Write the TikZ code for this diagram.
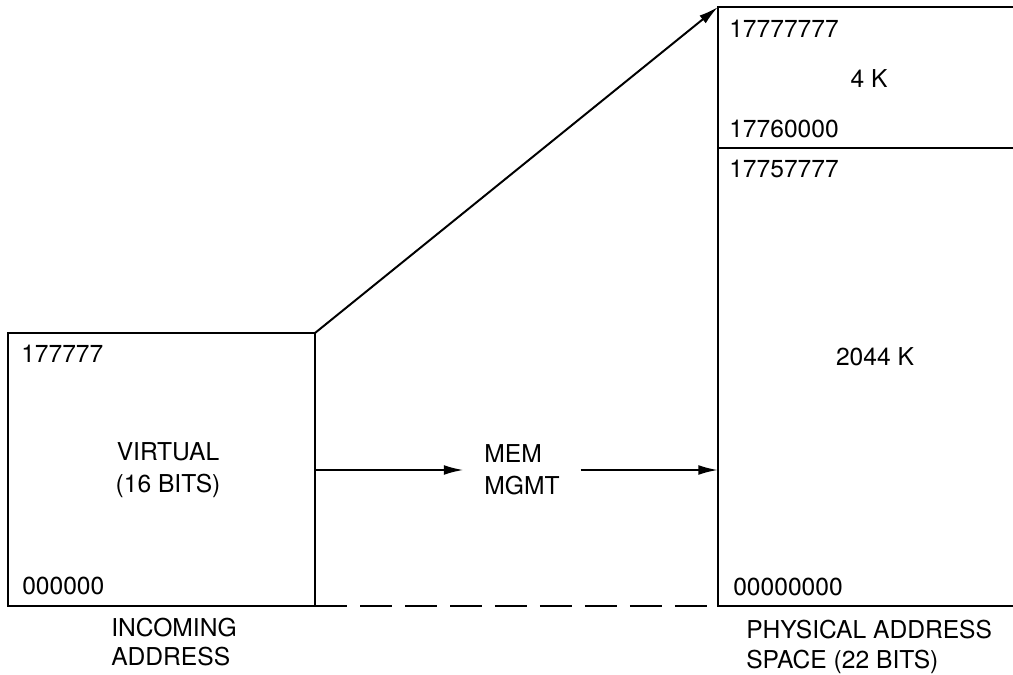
\documentclass[tikz,border=0pt]{standalone}
\usepackage{fontspec}
\setmainfont{TeX Gyre Heros}
\usetikzlibrary{arrows.meta}

\begin{document}
\begin{tikzpicture}[x=0.025cm, y=-0.025cm,
	line width=1.8pt,
	numtext/.style={inner sep=0pt, anchor=west, font=\fontsize{17.5}{22}\selectfont},
	midtext/.style={inner sep=0pt, align=center, font=\fontsize{17.5}{22.8}\selectfont},
	arr/.style={line width=1.4pt, -{Latex[length=14pt,width=7pt]}},
	]
	\useasboundingbox (0,0) rectangle (1013,675);
	%Corners
	\coordinate (vnw)  at (8,333);
	\coordinate (vne)  at (315,333);
	\coordinate (vse)  at (315,606);
	\coordinate (vmid) at (315,470);
	\coordinate (pnw)  at (718,7);
	\coordinate (pne)  at (1013,7);
	\coordinate (pdw)  at (718,148);
	\coordinate (pde)  at (1013,148);
	\coordinate (psw)  at (718,606);
	\coordinate (pse)  at (1013,606);
	\coordinate (pmid) at (718,470);
	%Texts
	\node[numtext]  (vtop)  at (20,354)  {177777};
	\node[numtext]  (vbot)  at (21,586)  {000000};
	\node[midtext]  (virt)  at (168,470) {VIRTUAL\\(16 BITS)};
	\node[numtext, align=left, font=\fontsize{17.5}{20}\selectfont] (incoming) at (110,642) {INCOMING\\ADDRESS};
	\node[midtext, align=left, inner xsep=14pt] (mgmt) at (522,470) {MEM\\MGMT};
	\node[numtext]  (ptop)  at (728,29)  {17777777};
	\node[midtext]  (four)  at (869,79)  {4 K};
	\node[numtext]  (pdivhi) at (728,129) {17760000};
	\node[numtext]  (pdivlo) at (728,169) {17757777};
	\node[midtext]  (big)   at (875,357) {2044 K};
	\node[numtext]  (pbot)  at (732,587) {00000000};
	\node[numtext, align=left, font=\fontsize{17.5}{21.5}\selectfont] (physical) at (745,647) {PHYSICAL ADDRESS\\SPACE (22 BITS)};
	%Lines
	\draw (vnw) rectangle (vse);
	\draw (pne) -- (pnw) -- (psw) -- (pse);
	\draw (pdw) -- (pde);
	\draw[dash pattern=on 23pt off 9pt] (vse) -- (psw);
	\draw[arr] (vne) -- (pnw);
	\draw[arr] (vmid) -- (mgmt);
	\draw[arr] (mgmt) -- (pmid);
\end{tikzpicture}
\end{document}
